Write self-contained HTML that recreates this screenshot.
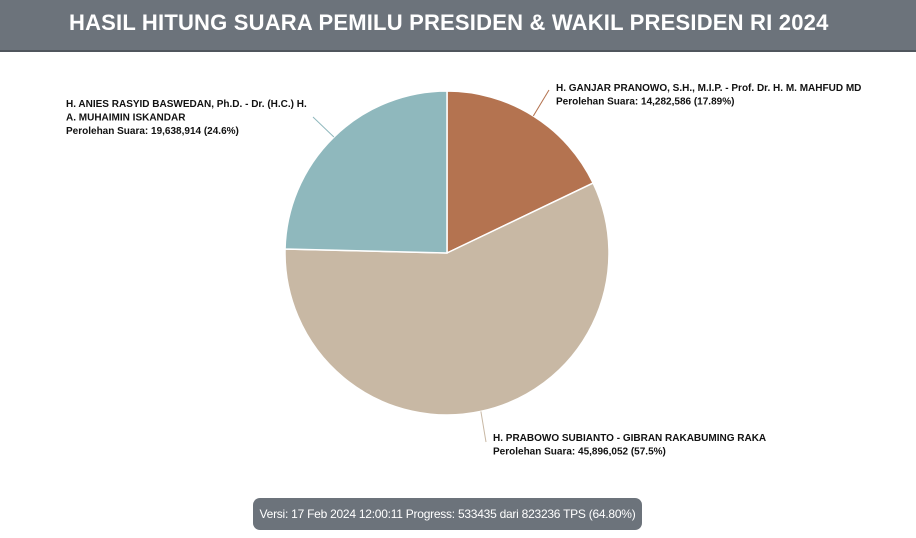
<!DOCTYPE html>
<html><head><meta charset="utf-8"><style>
html,body{margin:0;padding:0;width:916px;height:538px;overflow:hidden;background:#fff;font-family:"Liberation Sans",sans-serif}
#hdr{position:absolute;left:0;top:0;width:916px;height:50px;background:#6c737b;border-bottom:2px solid #50565d}
#ttl{position:absolute;left:69px;top:0;width:758px;height:50px;line-height:46px;text-align:center;color:#fff;font-weight:bold;font-size:22px;letter-spacing:0.2px;white-space:nowrap}
#badge{position:absolute;left:253px;top:498px;width:389px;height:32px;background:#6c737b;border-radius:7px;color:#fff;font-size:12px;letter-spacing:-0.25px;white-space:nowrap;line-height:32px;text-align:center}
svg{position:absolute;left:0;top:0}
.lb{font-size:10px;font-weight:bold;fill:#111}
</style></head><body>
<div id="hdr"></div>
<div id="ttl">HASIL HITUNG SUARA PEMILU PRESIDEN &amp; WAKIL PRESIDEN RI 2024</div>
<svg id="chart" width="916" height="538"></svg>
<div id="badge">Versi: 17 Feb 2024 12:00:11 Progress: 533435 dari 823236 TPS (64.80%)</div>
<script>
const names=["H. GANJAR PRANOWO, S.H., M.I.P. - Prof. Dr. H. M. MAHFUD MD","H. PRABOWO SUBIANTO - GIBRAN RAKABUMING RAKA","H. ANIES RASYID BASWEDAN, Ph.D. - Dr. (H.C.) H. A. MUHAIMIN ISKANDAR"];
const votes=[14282586,45896052,19638914];
const pctLabels=["17.89%","57.5%","24.6%"];
const colors=["#b47350","#c8b8a4","#8fb8bd"];
const NS="http://www.w3.org/2000/svg";
const svg=document.getElementById('chart');
const cx=447,cy=253,r=162;
const total=votes.reduce((a,b)=>a+b,0);
function pt(a,rr){return [cx+rr*Math.sin(a),cy-rr*Math.cos(a)];}
let a0=0;
const mids=[];
votes.forEach((v,i)=>{
  const a1=a0+v/total*2*Math.PI;
  const p0=pt(a0,r),p1=pt(a1,r);
  const large=(a1-a0)>Math.PI?1:0;
  const p=document.createElementNS(NS,'path');
  p.setAttribute('d',`M${cx},${cy}L${p0[0]},${p0[1]}A${r},${r} 0 ${large} 1 ${p1[0]},${p1[1]}Z`);
  p.setAttribute('fill',colors[i]);p.setAttribute('stroke','#fff');p.setAttribute('stroke-width','1.5');
  
  
  svg.appendChild(p);
  mids.push((a0+a1)/2);
  a0=a1;
});
const lab=[
 {lines:[names[0]],x:556,y:91,lx:549,ly:90},
 {lines:[names[1]],x:493,y:441,lx:486,ly:442},
 {lines:["H. ANIES RASYID BASWEDAN, Ph.D. - Dr. (H.C.) H.","A. MUHAIMIN ISKANDAR"],x:66,y:107,lx:313,ly:117}
];
lab.forEach((L,i)=>{
  const e=pt(mids[i],r);
  const ln=document.createElementNS(NS,'line');
  ln.setAttribute('x1',e[0]);ln.setAttribute('y1',e[1]);ln.setAttribute('x2',L.lx);ln.setAttribute('y2',L.ly);
  ln.setAttribute('stroke',colors[i]);ln.setAttribute('stroke-width','1');
  
  
  svg.appendChild(ln);
  const t=document.createElementNS(NS,'text');
  t.setAttribute('class','lb');
  
  
  const all=L.lines.concat(["Perolehan Suara: "+votes[i].toLocaleString('en-US')+" ("+pctLabels[i]+")"]);
  all.forEach((s,j)=>{const ts=document.createElementNS(NS,'tspan');ts.setAttribute('x',L.x);ts.setAttribute('y',L.y+j*13.5);ts.textContent=s;t.appendChild(ts);});
  svg.appendChild(t);
});
</script>
</body></html>
